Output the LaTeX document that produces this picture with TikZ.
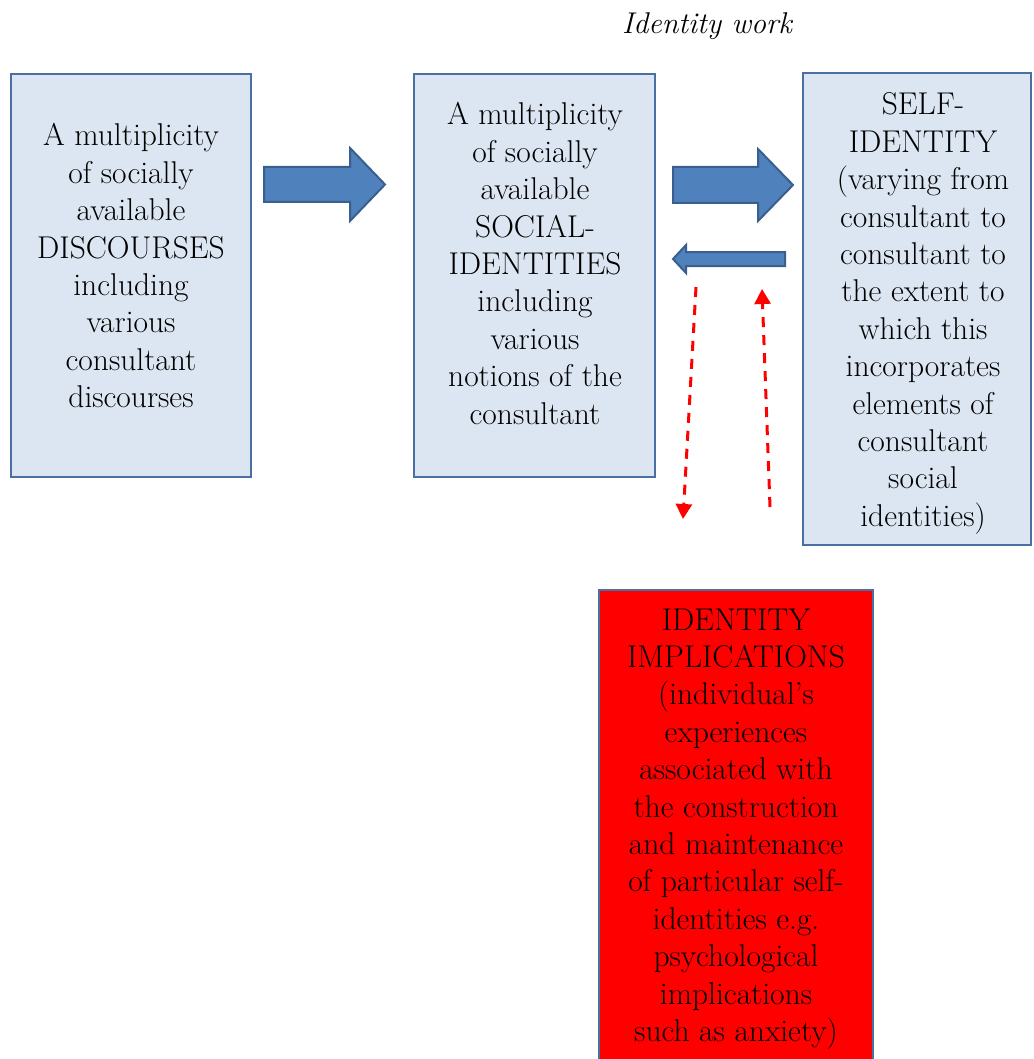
\documentclass[tikz,border=0pt]{standalone}
\usetikzlibrary{arrows.meta}
\definecolor{boxfill}{HTML}{DCE6F2}
\definecolor{boxline}{HTML}{4A6FA3}
\definecolor{arrfill}{HTML}{4F81BD}
\definecolor{arrline}{HTML}{3A5F8E}
\definecolor{redfill}{HTML}{FF0000}
\definecolor{dashred}{HTML}{FF0000}
\tikzset{
  boxstyle/.style={draw=boxline, line width=2.4pt, fill=boxfill, inner sep=0pt, rectangle},
  redbox/.style={draw=boxline, line width=2.4pt, fill=redfill, inner sep=0pt, rectangle},
  boxtext/.style={inner sep=0pt, anchor=base, font=\fontsize{31.5}{37.4}\selectfont},
  blockarrow/.style={draw=arrline, line width=2pt, fill=arrfill, line join=miter},
  dasharrow/.style={draw=dashred, line width=3pt, dash pattern=on 10pt off 8pt,
     -{Triangle[width=16pt,length=15pt]}}
}
\newcommand{\lines}[1]{\begin{tabular}[t]{@{}c@{}}#1\end{tabular}}
\begin{document}
\begin{tikzpicture}[x=1pt,y=-1pt]
\useasboundingbox (0,0) rectangle (1033,1059);
\fill[white] (0,0) rectangle (1033,1059);

% title
\node[inner sep=0pt, anchor=base, font=\fontsize{30}{36}\selectfont\itshape] (title) at (707,34) {Identity work};

% boxes
\node[boxstyle, minimum width=240pt, minimum height=403pt] (b1) at (131,275.5) {};
\node[boxstyle, minimum width=241pt, minimum height=403pt] (b2) at (534.5,275.5) {};
\node[boxstyle, minimum width=228pt, minimum height=472pt] (b3) at (917,309) {};
\node[redbox, minimum width=274pt, minimum height=475pt] (b4) at (736,827.5) {};

% texts
\node[boxtext] (t1) at (131,146) {\lines{A multiplicity\\ of socially\\ available\\ DISCOURSES\\ including\\ various\\ consultant\\ discourses}};
\node[boxtext] (t2) at (535,125) {\lines{A multiplicity\\ of socially\\ available\\ SOCIAL-\\ IDENTITIES\\ including\\ various\\ notions of the\\ consultant}};
\node[boxtext] (t3) at (923,115) {\lines{SELF-\\ IDENTITY\\ (varying from\\ consultant to\\ consultant to\\ the extent to\\ which this\\ incorporates\\ elements of\\ consultant\\ social\\ identities)}};
\node[boxtext] (t4) at (736,630) {\lines{IDENTITY\\ IMPLICATIONS\\ (individual's\\ experiences\\ associated with\\ the construction\\ and maintenance\\ of particular self-\\ identities e.g.\\ psychological\\ implications\\ such as anxiety)}};

% block arrows
\draw[blockarrow] (264,167) -- (350,167) -- (350,148) -- (385,184.5) -- (350,221) -- (350,202) -- (264,202) -- cycle;
\draw[blockarrow] (673,167) -- (758,167) -- (758,149) -- (793,185) -- (758,221) -- (758,203) -- (673,203) -- cycle;
\draw[blockarrow] (785,252) -- (686,252) -- (686,245) -- (673,259) -- (686,273) -- (686,266) -- (785,266) -- cycle;

% dashed red arrows
\coordinate (d1s) at (696,287);
\coordinate (d1e) at (683,519);
\coordinate (d2s) at (770,507);
\coordinate (d2e) at (762,289);
\draw[dasharrow] (d1s) -- (d1e);
\draw[dasharrow] (d2s) -- (d2e);
\end{tikzpicture}
\end{document}
